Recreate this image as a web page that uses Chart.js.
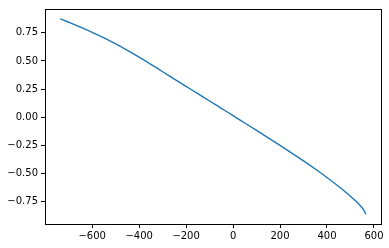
<!DOCTYPE html>
<html>
<head>
<meta charset="utf-8">
<script src="https://cdn.jsdelivr.net/npm/chart.js@4/dist/chart.umd.min.js"></script>
<style>
html,body{margin:0;padding:0;background:#fff;}
#wrap{width:389px;height:248px;position:relative;}
</style>
</head>
<body>
<div id="wrap"><canvas id="c" width="389" height="248"></canvas></div>
<script>
const xValues = [-736, -700, -650, -600, -550, -500, -450, -400, -350, -300, -250, -200, -150, -100, -50, 0, 50, 100, 150, 200, 250, 300, 350, 400, 450, 475, 500, 525, 545, 555, 560, 565];
const yValues = [0.875, 0.844, 0.800, 0.754, 0.705, 0.652, 0.595, 0.534, 0.470, 0.404, 0.339, 0.274, 0.209, 0.144, 0.079, 0.014, -0.052, -0.118, -0.184, -0.251, -0.319, -0.389, -0.461, -0.536, -0.616, -0.658, -0.703, -0.751, -0.795, -0.822, -0.839, -0.863];
const xTicks = [-600, -400, -200, 0, 200, 400, 600];
const yTicks = [-0.75, -0.50, -0.25, 0.00, 0.25, 0.50, 0.75];

const points = xValues.map((x, i) => ({x: x, y: yValues[i]}));
const fmtMinus = s => s.replace('-', '\u2212');

const boxPlugin = {
  id: 'box',
  afterDraw(chart) {
    const a = chart.chartArea, ctx = chart.ctx;
    ctx.save();
    ctx.strokeStyle = '#000';
    ctx.lineWidth = 1;
    ctx.strokeRect(Math.round(a.left) + 0.5, Math.round(a.top) + 0.5, Math.round(a.right - a.left), Math.round(a.bottom - a.top));
    ctx.restore();
  }
};

new Chart(document.getElementById('c'), {
  type: 'scatter',
  data: {
    datasets: [{
      data: points,
      showLine: true,
      borderColor: '#1f77b4',
      backgroundColor: '#1f77b4',
      borderWidth: 1.4,
      pointRadius: 0,
      cubicInterpolationMode: 'monotone'
    }]
  },
  options: {
    responsive: false,
    animation: false,
    devicePixelRatio: 1,
    layout: {padding: {top: 6, right: 8, left: 0, bottom: 0}},
    plugins: {legend: {display: false}, tooltip: {enabled: false}},
    scales: {
      x: {
        type: 'linear',
        min: -801, max: 630,
        afterBuildTicks: s => { s.ticks = xTicks.map(v => ({value: v})); },
        afterFit: s => { s.height = 24; },
        grid: {drawOnChartArea: false, drawTicks: true, tickLength: 4, color: '#000', lineWidth: 1},
        border: {display: false},
        ticks: {
          color: '#000', padding: 2, maxRotation: 0, autoSkip: false,
          font: {family: 'DejaVu Sans', size: 10},
          callback: v => fmtMinus(String(v))
        }
      },
      y: {
        type: 'linear',
        min: -0.95, max: 0.962,
        afterBuildTicks: s => { s.ticks = yTicks.map(v => ({value: v})); },
        afterFit: s => { s.width = 45; },
        grid: {drawOnChartArea: false, drawTicks: true, tickLength: 4, color: '#000', lineWidth: 1},
        border: {display: false},
        ticks: {
          color: '#000', padding: 3, autoSkip: false,
          font: {family: 'DejaVu Sans', size: 10},
          callback: v => fmtMinus(v.toFixed(2))
        }
      }
    }
  },
  plugins: [boxPlugin]
});
</script>
</body>
</html>
